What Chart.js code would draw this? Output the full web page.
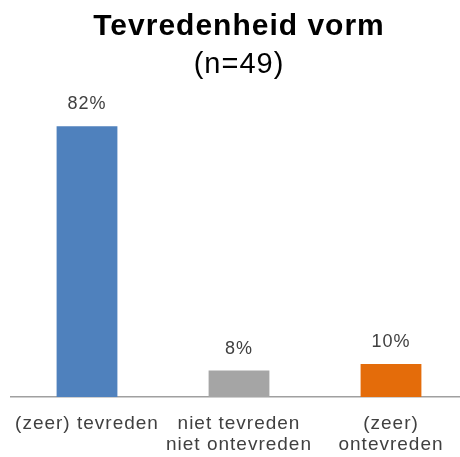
<!DOCTYPE html>
<html>
<head>
<meta charset="utf-8">
<script src="https://cdn.jsdelivr.net/npm/chart.js@4/dist/chart.umd.min.js"></script>
<style>
  html, body { margin: 0; padding: 0; background: #fff; overflow: hidden; }
  #wrap { width: 460px; height: 457px; position: relative; overflow: hidden; }
</style>
</head>
<body>
<div id="wrap"><canvas id="c" width="467" height="475"></canvas></div>
<script>
const categories = [['(zeer) tevreden'], ['niet tevreden', 'niet ontevreden'], ['(zeer)', 'ontevreden']];
const values = [82, 8, 10];
const barColors = ['#4F81BD', '#A5A5A5', '#E46C0A'];
const titleText = 'Tevredenheid vorm';
const subtitleText = '(n=49)';

const spacing = {
  id: 'spacing',
  beforeUpdate(chart) { chart.ctx.letterSpacing = '1px'; },
  beforeLayout(chart) { chart.ctx.letterSpacing = '1px'; },
  beforeDraw(chart) { chart.ctx.letterSpacing = '1px'; }
};

const valueLabels = {
  id: 'valueLabels',
  afterDatasetsDraw(chart) {
    const ctx = chart.ctx;
    const meta = chart.getDatasetMeta(0);
    ctx.save();
    ctx.letterSpacing = '1px';
    ctx.font = '18px "Liberation Sans", Arial, sans-serif';
    ctx.fillStyle = '#404040';
    ctx.textAlign = 'center';
    ctx.textBaseline = 'alphabetic';
    meta.data.forEach((bar, i) => {
      ctx.fillText(values[i] + '%', bar.x, bar.y - 17);
    });
    ctx.restore();
  }
};

new Chart(document.getElementById('c'), {
  type: 'bar',
  data: {
    labels: categories,
    datasets: [{
      data: values,
      backgroundColor: barColors,
      borderWidth: 0,
      barPercentage: 0.4,
      categoryPercentage: 1.0
    }]
  },
  options: {
    responsive: false,
    animation: false,
    events: [],
    layout: { padding: { left: 11, right: 0, top: 0, bottom: 3 } },
    plugins: {
      legend: { display: false },
      tooltip: { enabled: false },
      title: {
        display: true,
        text: titleText,
        color: '#000000',
        font: { family: '"Liberation Sans", Arial, sans-serif', size: 30, weight: 'bold', lineHeight: 1.2 },
        padding: { top: 9, bottom: 0 }
      },
      subtitle: {
        display: true,
        text: subtitleText,
        color: '#000000',
        font: { family: '"Liberation Sans", Arial, sans-serif', size: 29, weight: 'normal', lineHeight: 1.2 },
        padding: { top: 3, bottom: 17 }
      }
    },
    scales: {
      x: {
        grid: { display: false, drawTicks: false, tickLength: 0 },
        border: { display: true, color: '#A0A0A0', width: 1.5 },
        afterFit(scale) { scale.paddingLeft = 0; scale.paddingRight = 0; },
        ticks: {
          color: '#404040',
          padding: 17,
          maxRotation: 0,
          autoSkip: false,
          font: { family: '"Liberation Sans", Arial, sans-serif', size: 19, lineHeight: 1.08 }
        }
      },
      y: {
        display: false,
        min: 0,
        max: 90
      }
    }
  },
  plugins: [spacing, valueLabels]
});
</script>
</body>
</html>
